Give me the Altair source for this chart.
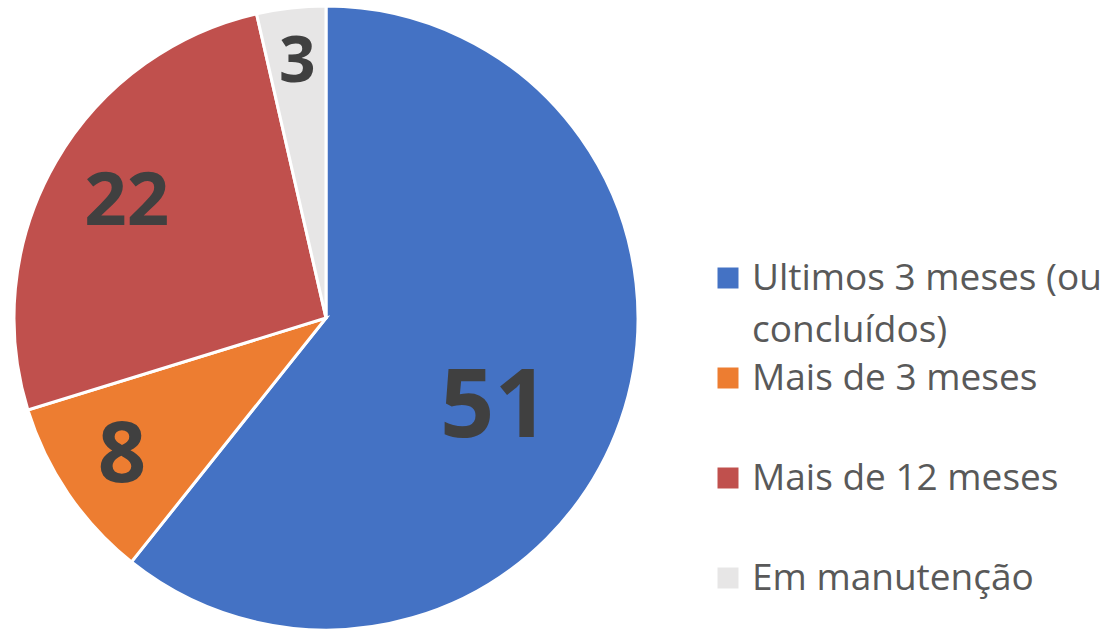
import altair as alt
import pandas as pd

categories = ["Ultimos 3 meses (ou concluídos)", "Mais de 3 meses", "Mais de 12 meses", "Em manutenção"]
values = [51, 8, 22, 3]
legend_labels = ["Ultimos 3 meses (ou\nconcluídos)", "Mais de 3 meses", "Mais de 12 meses", "Em manutenção"]
colors = ["#4472C4", "#ED7D31", "#C0504D", "#E7E6E6"]
label_sizes = [95, 64, 77, 48]

df = pd.DataFrame({
    "cat": categories,
    "v": values,
    "idx": list(range(len(categories))),
    "leg": legend_labels,
})

CX, CY, R = 326, 318, 312

color = alt.Color("cat:N", scale=alt.Scale(domain=categories, range=colors), legend=None)
theta = alt.Theta("v:Q", stack=True)
order = alt.Order("idx:Q", sort="ascending")

base = alt.Chart(df)

pie = base.mark_arc(radius=R, stroke="white", strokeWidth=3).encode(
    theta=theta, order=order, color=color,
    x=alt.value(CX), y=alt.value(CY),
)

# label placement per slice (radius from centre, pixel nudge)
label_style = {0: dict(radius=189, dx=-10, dy=28), 1: dict(radius=247, dx=0, dy=0),
               2: dict(radius=230, dx=0, dy=0), 3: dict(radius=257, dx=0, dy=0)}

label_layers = []
for i, st in label_style.items():
    label_layers.append(
        base.transform_calculate(t=f"datum.idx == {i} ? '' + datum.v : ''")
        .mark_text(font="Open Sans", fontWeight="bold", color="#404040",
                   align="center", baseline="middle", **st)
        .encode(
            theta=theta, order=order, text="t:N",
            size=alt.Size("cat:N", scale=alt.Scale(domain=categories, range=label_sizes), legend=None),
            x=alt.value(CX), y=alt.value(CY),
        )
    )

ypos = alt.Y("idx:Q", scale=alt.Scale(domain=[0, 3], range=[278, 578], zero=False, nice=False), axis=None)

leg_sym = base.mark_square(size=441, opacity=1).encode(
    x=alt.value(728), y=ypos, color=color,
)
leg_txt = base.mark_text(font="Open Sans", fontSize=37, color="#595959", align="left",
                         baseline="alphabetic", dy=12, lineHeight=52, lineBreak="\n").encode(
    x=alt.value(752), y=ypos, text="leg:N",
)

chart = alt.layer(pie, *label_layers, leg_sym, leg_txt).properties(
    width=1109, height=633, autosize="none", padding=0, background="white"
).configure_view(stroke=None)

chart.save("out.html", embed_options={"renderer": "svg", "actions": False})
